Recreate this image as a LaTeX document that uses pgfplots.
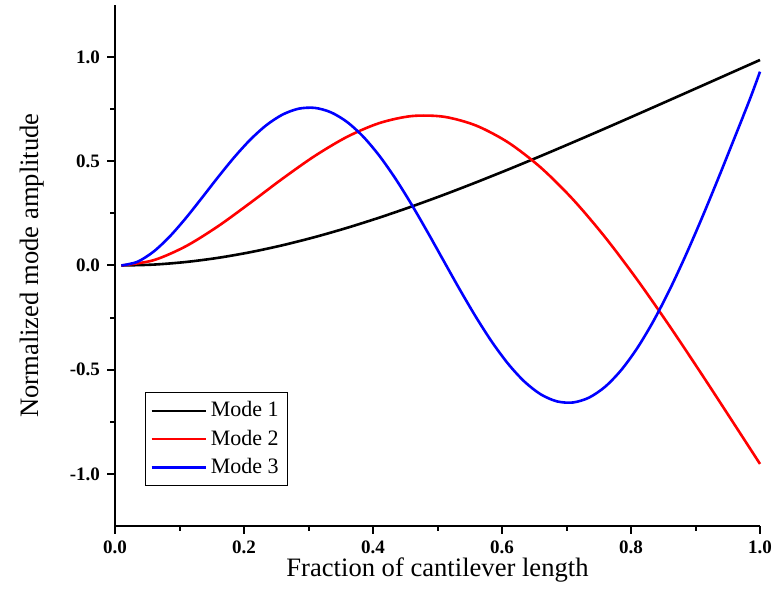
\documentclass[border=0pt]{standalone}
\usepackage{fontspec}
\setmainfont{Liberation Serif}
\usepackage{pgfplots}
\pgfplotsset{compat=1.18}

% mode shapes, sampled from the figure (x = fraction of length)
\pgfplotstableread{
x      m1      m2
0.01   0.0000  0.0000
0.06   0.0043  0.0254
0.11   0.0168  0.0926
0.16   0.0368  0.1888
0.21   0.0639  0.3011
0.26   0.0973  0.4173
0.31   0.1365  0.5261
0.36   0.1809  0.6177
0.41   0.2299  0.6835
0.46   0.2830  0.7170
0.51   0.3395  0.7137
0.56   0.3991  0.6712
0.61   0.4611  0.5895
0.66   0.5252  0.4702
0.71   0.5909  0.3171
0.76   0.6577  0.1350
0.81   0.7255 -0.0700
0.86   0.7938 -0.2916
0.91   0.8624 -0.5237
0.96   0.9312 -0.7611
1.00   0.9862 -0.9522
}\modesA

\pgfplotstableread{
x      m3
0.010  0.0000
0.035  0.0180
0.060  0.0670
0.085  0.1395
0.110  0.2281
0.135  0.3255
0.160  0.4248
0.185  0.5197
0.210  0.6045
0.235  0.6741
0.260  0.7245
0.285  0.7525
0.310  0.7562
0.335  0.7347
0.360  0.6881
0.385  0.6177
0.410  0.5259
0.435  0.4159
0.460  0.2917
0.485  0.1580
0.510  0.0197
0.535 -0.1178
0.560 -0.2493
0.585 -0.3695
0.610 -0.4738
0.635 -0.5578
0.660 -0.6181
0.685 -0.6519
0.710 -0.6574
0.735 -0.6339
0.760 -0.5815
0.785 -0.5011
0.810 -0.3949
0.835 -0.2654
0.860 -0.1158
0.885  0.0501
0.910  0.2285
0.935  0.4158
0.960  0.6085
0.985  0.8038
1.000  0.9300
}\modesB

\begin{document}
\begin{tikzpicture}
\begin{axis}[
    scale only axis,
    width=322.5pt, height=260.5pt,
    xmin=0, xmax=1, ymin=-1.25, ymax=1.25,
    axis x line=bottom, axis y line=left,
    axis line style={-, line width=1pt},
    xtick={0,0.2,0.4,0.6,0.8,1.0},
    ytick={-1,-0.5,0,0.5,1},
    minor x tick num=1, minor y tick num=1,
    tick align=outside,
    major tick length=4pt, minor tick length=2.5pt,
    tick style={line width=1pt, black},
    ticklabel style={font=\fontsize{9.5}{11}\selectfont\bfseries},
    /pgf/number format/assume math mode=true,
    /pgf/number format/.cd, fixed, fixed zerofill, precision=1, /pgfplots/.cd,
    xlabel={Fraction of cantilever length},
    ylabel={Normalized mode amplitude},
    label style={font=\fontsize{13.3}{15}\selectfont},
    xlabel style={at={(axis description cs:0.5,-0.084)}, anchor=center},
    ylabel style={at={(axis description cs:-0.128,0.5)}, anchor=center},
    legend style={at={(0.046,0.257)}, anchor=north west, draw=black, line width=0.6pt,
        font=\fontsize{11}{13}\selectfont, inner sep=2.5pt, row sep=1pt,
        cells={anchor=west}},
    legend image code/.code={\draw[#1, line width=1.3pt] (0pt,0pt) -- (27pt,0pt);},
    clip=false,
]
\addplot[black, line width=1.3pt, smooth] table[x=x, y=m1] {\modesA};
\addplot[red, line width=1.3pt, smooth] table[x=x, y=m2] {\modesA};
\addplot[blue, line width=1.3pt, smooth] table[x=x, y=m3] {\modesB};
\legend{Mode 1, Mode 2, Mode 3}
\end{axis}
\pgfresetboundingbox
\path (current axis.south west) ++(-57.5pt,-43.5pt) rectangle ([shift={(7pt,2.5pt)}]current axis.north east);
\end{tikzpicture}
\end{document}
